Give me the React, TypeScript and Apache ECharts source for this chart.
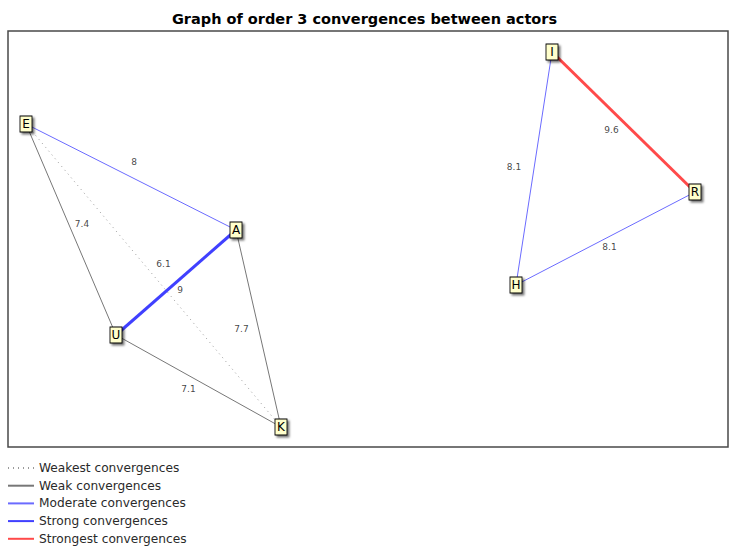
import React, { useEffect, useRef } from "react";
import * as echarts from "echarts";

// Actors and their layout coordinates (plot units)
const actors = ["E", "A", "U", "K", "I", "R", "H"];
const actorX = [18, 228, 108, 273, 544, 687, 508];
const actorY = [93, 199, 304, 396, 21, 161, 254];

// Convergences between actors
const edgeSource = ["E", "E", "E", "A", "A", "U", "I", "I", "H"];
const edgeTarget = ["A", "U", "K", "U", "K", "K", "R", "H", "R"];
const edgeValue = [8, 7.4, 6.1, 9, 7.7, 7.1, 9.6, 8.1, 8.1];
const edgeLevel = [2, 1, 0, 3, 1, 1, 4, 2, 2];

const levelNames = [
  "Weakest convergences",
  "Weak convergences",
  "Moderate convergences",
  "Strong convergences",
  "Strongest convergences",
];

// Styles (not data)
const levelStyles: any[] = [
  { color: "#9a9a9a", width: 1, type: [1, 4] },
  { color: "#777777", width: 1, type: "solid" },
  { color: "#6b6bff", width: 1, type: "solid" },
  { color: "#4040ff", width: 3, type: "solid" },
  { color: "#ff4a4a", width: 3, type: "solid" },
];
const labelOffsets = [
  [3, -15], [11, -6], [10, -12], [4, 7], [-17, 0], [-10, 8], [-12, 8], [-20, -2], [4, 8],
];

export default function App() {
  const ref = useRef<HTMLDivElement>(null);
  useEffect(() => {
    if (!ref.current) return;
    const chart = echarts.init(ref.current, null, { renderer: "svg" });
    const nodes = actors.map((a, i) => ({ name: a, value: [actorX[i], actorY[i]] }));
    const links = edgeSource.map((s, i) => ({
      source: s,
      target: edgeTarget[i],
      value: edgeValue[i],
      lineStyle: {
        color: levelStyles[edgeLevel[i]].color,
        width: levelStyles[edgeLevel[i]].width,
        type: levelStyles[edgeLevel[i]].type,
        opacity: 1,
        curveness: 0,
      },
    }));
    // edge labels at edge midpoints (derived from node data)
    const edgeLabelData = edgeSource.map((s, i) => {
      const a = actors.indexOf(s);
      const b = actors.indexOf(edgeTarget[i]);
      return {
        value: [(actorX[a] + actorX[b]) / 2, (actorY[a] + actorY[b]) / 2, edgeValue[i]],
        label: { offset: labelOffsets[i] },
      };
    });
    const legendSeries = levelNames.map((n, i) => ({
      name: n,
      type: "line",
      data: [],
      symbol: "none",
      lineStyle: {
        color: levelStyles[i].color,
        width: levelStyles[i].width,
        type: levelStyles[i].type,
      },
      itemStyle: { color: levelStyles[i].color, opacity: 0 },
    }));
    chart.setOption({
      animation: false,
      backgroundColor: "#ffffff",
      title: {
        text: "Graph of order 3 convergences between actors",
        left: "center",
        top: 6,
        textStyle: { fontFamily: "DejaVu Sans", fontSize: 14.5, fontWeight: "bold", color: "#000" },
      },
      grid: {
        left: 8,
        top: 31,
        width: 720,
        height: 416,
        show: true,
        borderColor: "#4a4a4a",
        borderWidth: 1.5,
        backgroundColor: "#fff",
      },
      xAxis: { type: "value", min: 0, max: 720, show: false },
      yAxis: { type: "value", min: 0, max: 416, inverse: true, show: false },
      legend: {
        orient: "vertical",
        left: 7,
        top: 462,
        padding: 0,
        itemWidth: 26,
        itemHeight: 12,
        itemGap: 5.7,
        textStyle: { fontFamily: "DejaVu Sans", fontSize: 12.2, lineHeight: 12, color: "#2a2a2a" },
        data: levelNames,
      },
      series: [
        {
          type: "graph",
          layout: "none",
          coordinateSystem: "cartesian2d",
          data: nodes,
          links,
          symbol: "rect",
          symbolSize: [12, 16],
          z: 5,
          itemStyle: {
            color: "#ffffcc",
            borderColor: "#000",
            borderWidth: 1,
            shadowColor: "rgba(0,0,0,0.55)",
            shadowOffsetX: 2,
            shadowOffsetY: 2,
            shadowBlur: 2,
          },
          label: {
            show: true,
            position: "inside",
            formatter: "{b}",
            fontFamily: "DejaVu Sans",
            fontSize: 12,
            color: "#000",
          },
          edgeLabel: { show: false },
          emphasis: { disabled: true },
        },
        {
          type: "scatter",
          data: edgeLabelData,
          symbolSize: 0,
          z: 6,
          silent: true,
          label: {
            show: true,
            position: "inside",
            formatter: (p: any) => String(p.value[2]),
            fontFamily: "DejaVu Sans",
            fontSize: 9,
            color: "#111",
          },
          emphasis: { disabled: true },
        },
        ...legendSeries,
      ],
    });
    return () => chart.dispose();
  }, []);
  return <div ref={ref} style={{ width: 729, height: 550, position: "absolute", left: 0, top: 0 }} />;
}
